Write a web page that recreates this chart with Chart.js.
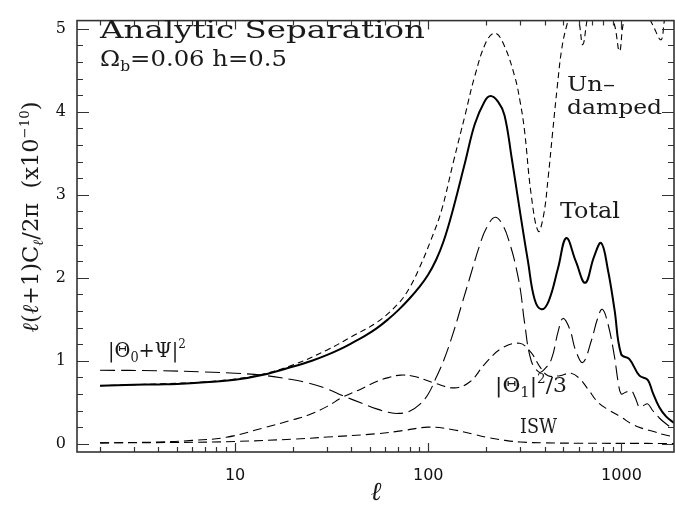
<!DOCTYPE html>
<html>
<head>
<meta charset="utf-8">
<script src="https://cdn.jsdelivr.net/npm/chart.js@4.4.1/dist/chart.umd.min.js"></script>
<style>
  html, body { margin: 0; padding: 0; background: #fff; }
  #wrap { position: relative; width: 675px; height: 508px; }
</style>
</head>
<body>
<div id="wrap"><canvas id="clChart"></canvas></div>
<script>
// values: multipole l, l(l+1)C_l/2pi in units of 1e-10
const totalL = [2, 3, 4, 5, 7, 10, 14, 20, 25, 30, 35, 40, 47, 54, 62, 70, 80, 90, 100, 110, 120, 132, 155, 174, 195, 210, 230, 248, 270, 291, 310, 328, 355, 385, 420, 470, 518, 580, 649, 720, 785, 850, 920, 996, 1099, 1239, 1367, 1450, 1570, 1700, 1870];
const totalV = [0.70, 0.71, 0.715, 0.72, 0.74, 0.77, 0.83, 0.93, 1.00, 1.07, 1.14, 1.21, 1.30, 1.39, 1.50, 1.61, 1.75, 1.89, 2.04, 2.22, 2.44, 2.76, 3.39, 3.85, 4.12, 4.19, 4.12, 3.96, 3.45, 2.96, 2.55, 2.20, 1.74, 1.62, 1.72, 2.12, 2.48, 2.20, 1.94, 2.25, 2.42, 2.10, 1.62, 1.08, 1.02, 0.82, 0.77, 0.62, 0.44, 0.33, 0.25];

const undampedL = [2, 4, 7, 10, 14, 20, 30, 40, 54, 70, 80, 90, 103, 117, 135, 155, 174, 200, 222, 245, 280, 300, 315, 341, 371, 395, 417, 440, 465, 490, 518, 560, 600, 631, 680, 760, 850, 920, 977, 1030, 1150, 1300, 1450, 1604, 1700, 1870];
const undampedV = [0.70, 0.72, 0.745, 0.78, 0.84, 0.95, 1.13, 1.29, 1.46, 1.69, 1.88, 2.12, 2.45, 2.81, 3.40, 3.96, 4.43, 4.85, 4.95, 4.82, 4.43, 4.10, 3.77, 3.00, 2.56, 2.75, 3.20, 3.75, 4.30, 4.75, 5.02, 5.25, 5.10, 4.81, 5.20, 5.35, 5.25, 5.05, 4.73, 5.10, 5.35, 5.25, 5.05, 4.87, 5.15, 5.10];

const monoL = [2, 4, 7, 10, 14, 20, 24, 30, 36, 45, 54, 62, 70, 80, 90, 100, 110, 120, 134, 150, 164, 185, 200, 222, 245, 265, 280, 300, 315, 341, 376, 400, 434, 470, 498, 540, 580, 631, 700, 750, 795, 850, 920, 960, 996, 1050, 1122, 1180, 1239, 1300, 1367, 1450, 1570, 1700, 1870];
const monoV = [0.885, 0.88, 0.865, 0.85, 0.825, 0.77, 0.73, 0.66, 0.58, 0.49, 0.42, 0.38, 0.365, 0.39, 0.47, 0.60, 0.80, 1.00, 1.32, 1.70, 2.00, 2.40, 2.60, 2.73, 2.62, 2.40, 2.20, 1.85, 1.46, 1.00, 0.86, 0.90, 1.02, 1.35, 1.51, 1.38, 1.12, 0.98, 1.25, 1.50, 1.62, 1.45, 1.05, 0.75, 0.60, 0.62, 0.64, 0.55, 0.44, 0.46, 0.48, 0.40, 0.31, 0.24, 0.17];

const dipoleL = [2, 4, 6, 9, 14, 20, 24, 30, 36, 45, 54, 63, 72, 85, 108, 137, 165, 196, 240, 297, 340, 380, 417, 480, 549, 610, 670, 762, 870, 996, 1145, 1300, 1450, 1650, 1870];
const dipoleV = [0.01, 0.02, 0.04, 0.077, 0.19, 0.29, 0.346, 0.45, 0.56, 0.66, 0.75, 0.80, 0.827, 0.81, 0.73, 0.673, 0.75, 0.96, 1.15, 1.21, 1.10, 0.92, 0.82, 0.82, 0.85, 0.78, 0.66, 0.49, 0.40, 0.32, 0.23, 0.18, 0.15, 0.11, 0.085];

const iswL = [2, 5, 10, 20, 30, 54, 75, 100, 130, 174, 200, 250, 300, 400, 600, 1000, 1870];
const iswV = [0.01, 0.015, 0.027, 0.055, 0.08, 0.12, 0.16, 0.20, 0.175, 0.11, 0.077, 0.04, 0.02, 0.01, 0.006, 0.004, 0.003];

// tick labels
const xLabels = [10, 100, 1000];
const yLabels = [0, 1, 2, 3, 4, 5];

const xTickVals = [];
for (let d = 1; d <= 1000; d *= 10) {
  for (let m = 1; m <= 9; m++) {
    const v = m * d;
    if (v >= 2 && v <= 1860) xTickVals.push(v);
  }
}
const yTickVals = [];
for (let i = 0; i <= 25; i++) yTickVals.push(i / 5);

const pts = (L, V) => L.map((l, i) => ({ x: l, y: V[i] }));

function fontStr(p) {
  return (p.italic ? 'italic ' : '') + p.size + 'px "DejaVu Serif"';
}

// draws a run of text pieces (for sub/superscripts), optionally stretched to a width
function drawRich(ctx, parts, x, y, opts) {
  opts = opts || {};
  let w = 0;
  parts.forEach(p => { ctx.font = fontStr(p); w += ctx.measureText(p.t).width; });
  const sx = opts.width ? opts.width / w : 1;
  ctx.save();
  ctx.translate(x, y);
  if (opts.rotate) ctx.rotate(opts.rotate);
  ctx.scale(sx, 1);
  let cx = opts.center ? -w / 2 : 0;
  parts.forEach(p => {
    ctx.font = fontStr(p);
    ctx.fillText(p.t, cx, p.dy || 0);
    cx += ctx.measureText(p.t).width;
  });
  ctx.restore();
}

const frameTicks = {
  id: 'frameTicks',
  afterDraw(chart) {
    const { ctx, chartArea: a } = chart;
    const xs = chart.scales.x, ys = chart.scales.y;
    ctx.save();
    ctx.strokeStyle = '#333';
    ctx.lineWidth = 1.2;
    ctx.beginPath();
    xs.ticks.forEach(t => {
      const px = Math.round(xs.getPixelForValue(t.value)) + 0.5;
      const len = xLabels.includes(t.value) ? 9 : 5;
      ctx.moveTo(px, a.bottom); ctx.lineTo(px, a.bottom - len);
      ctx.moveTo(px, a.top); ctx.lineTo(px, a.top + len);
    });
    ys.ticks.forEach(t => {
      const py = Math.round(ys.getPixelForValue(t.value)) + 0.5;
      const major = yLabels.some(v => Math.abs(v - t.value) < 1e-6);
      const len = major ? 12 : 6;
      ctx.moveTo(a.left, py); ctx.lineTo(a.left + len, py);
      ctx.moveTo(a.right, py); ctx.lineTo(a.right - len, py);
    });
    ctx.stroke();
    ctx.lineWidth = 1.6;
    ctx.strokeRect(a.left, a.top, a.right - a.left, a.bottom - a.top);
    ctx.restore();
  }
};

const labels = {
  id: 'labels',
  afterDraw(chart) {
    const ctx = chart.ctx;
    ctx.save();
    ctx.fillStyle = '#1a1a1a';
    ctx.textBaseline = 'alphabetic';

    drawRich(ctx, [{ t: 'Analytic Separation', size: 25 }], 100, 38, { width: 325 });
    drawRich(ctx, [
      { t: 'Ω', size: 22 }, { t: 'b', size: 14, dy: 5 }, { t: '=0.06 h=0.5', size: 22 }
    ], 100, 66, { width: 187 });

    drawRich(ctx, [{ t: 'Un–', size: 21 }], 567, 91, { width: 48 });
    drawRich(ctx, [{ t: 'damped', size: 21 }], 567, 114, { width: 95 });
    drawRich(ctx, [{ t: 'Total', size: 22 }], 560, 218, { width: 60 });
    drawRich(ctx, [{ t: 'ISW', size: 21 }], 520, 433, { width: 37 });

    drawRich(ctx, [
      { t: '|Θ', size: 21 }, { t: '0', size: 14, dy: 5 }, { t: '+Ψ|', size: 21 }, { t: '2', size: 13, dy: -9 }
    ], 108, 357, { width: 78 });
    drawRich(ctx, [
      { t: '|Θ', size: 21 }, { t: '1', size: 14, dy: 5 }, { t: '|', size: 21 }, { t: '2', size: 13, dy: -9 }, { t: '/3', size: 21 }
    ], 495, 392, { width: 72 });

    // axis titles
    drawRich(ctx, [
      { t: 'ℓ', size: 22, italic: true }, { t: '(', size: 22 }, { t: 'ℓ', size: 22, italic: true },
      { t: '+1)C', size: 22 }, { t: 'ℓ', size: 14, italic: true, dy: 5 },
      { t: '/2π  (x10', size: 22 }, { t: '−10', size: 13, dy: -9 }, { t: ')', size: 22 }
    ], 38, 217, { rotate: -Math.PI / 2, center: true, width: 231 });
    drawRich(ctx, [{ t: 'ℓ', size: 26, italic: true }], 376, 500, { center: true });
    ctx.restore();
  }
};

new Chart(document.getElementById('clChart'), {
  type: 'line',
  data: {
    datasets: [{
      label: 'Total',
      data: pts(totalL, totalV),
      borderColor: '#000',
      borderWidth: 2,
      clip: 0
    }, {
      label: 'Undamped',
      data: pts(undampedL, undampedV),
      borderColor: '#000',
      borderWidth: 1.1,
      borderDash: [6, 4],
      clip: 0
    }, {
      label: '|Theta0+Psi|^2',
      data: pts(monoL, monoV),
      borderColor: '#000',
      borderWidth: 1.1,
      borderDash: [15, 6],
      clip: 0
    }, {
      label: '|Theta1|^2/3',
      data: pts(dipoleL, dipoleV),
      borderColor: '#000',
      borderWidth: 1.1,
      borderDash: [9, 5],
      clip: 0
    }, {
      label: 'ISW',
      data: pts(iswL, iswV),
      borderColor: '#000',
      borderWidth: 1.1,
      borderDash: [9, 5],
      clip: 0
    }]
  },
  options: {
    responsive: true,
    maintainAspectRatio: false,
    animation: false,
    devicePixelRatio: 1,
    layout: { padding: { top: 2, right: 1, left: 0, bottom: 0 } },
    elements: {
      point: { radius: 0 },
      line: { tension: 0.4, fill: false }
    },
    plugins: {
      legend: { display: false },
      tooltip: { enabled: false }
    },
    scales: {
      x: {
        type: 'logarithmic',
        min: 1.52,
        max: 1870,
        grid: { display: false, drawTicks: false },
        border: { display: false },
        afterBuildTicks: s => { s.ticks = xTickVals.map(v => ({ value: v })); },
        afterFit: s => { s.height = 56; },
        ticks: {
          autoSkip: false,
          maxRotation: 0,
          minRotation: 0,
          padding: 14,
          color: '#111',
          font: { family: 'DejaVu Sans', size: 16 },
          callback: v => xLabels.includes(v) ? String(v) : ''
        }
      },
      y: {
        type: 'linear',
        min: -0.1,
        max: 5.1,
        grid: { display: false, drawTicks: false },
        border: { display: false },
        afterBuildTicks: s => { s.ticks = yTickVals.map(v => ({ value: v })); },
        afterFit: s => { s.width = 77; },
        ticks: {
          autoSkip: false,
          padding: 11,
          color: '#111',
          font: { family: 'DejaVu Serif', size: 16 },
          callback: v => {
            const r = Math.round(v);
            return (Math.abs(v - r) < 1e-6 && yLabels.includes(r)) ? String(r) : '';
          }
        }
      }
    }
  },
  plugins: [frameTicks, labels]
});
</script>
</body>
</html>
